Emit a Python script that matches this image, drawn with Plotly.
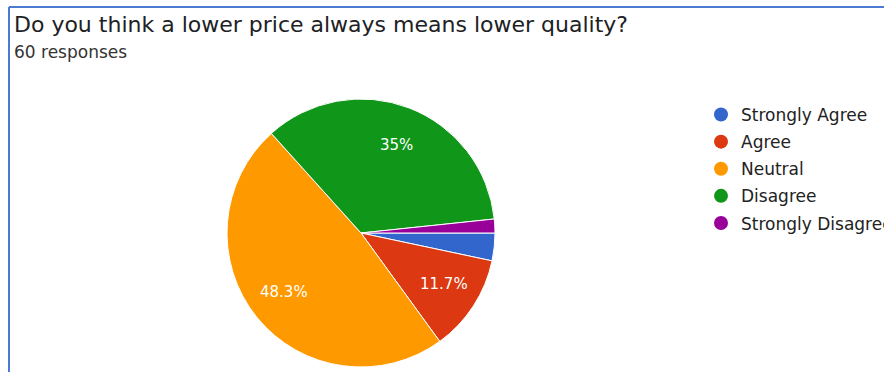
import math
import plotly.graph_objects as go

# Survey responses (60 total)
categories = ["Strongly Agree", "Agree", "Neutral", "Disagree", "Strongly Disagree"]
counts = [2, 7, 29, 21, 1]
colors = ["#3366cc", "#dc3912", "#ff9900", "#109618", "#990099"]

title_text = "Do you think a lower price always means lower quality?"
subtitle_text = "60 responses"

W, H = 884, 372
FONT = "DejaVu Sans"
total = sum(counts)

# pie geometry in pixels
cx, cy, radius = 361, 233, 134
start_angle = 90  # degrees clockwise from 12 o'clock


def pct_label(v):
    p = v / total * 100
    if p < 5:
        return ""
    s = f"{p:.1f}".rstrip("0").rstrip(".")
    return s + "%"


fig = go.Figure()

fig.add_trace(go.Pie(
    labels=categories,
    values=counts,
    sort=False,
    direction="clockwise",
    rotation=start_angle,
    marker=dict(colors=colors, line=dict(color="white", width=1)),
    textinfo="none",
    hoverinfo="label+percent",
    showlegend=False,
    domain=dict(x=[(cx - radius) / W, (cx + radius) / W],
                y=[(H - cy - radius) / H, (H - cy + radius) / H]),
))

# percentage labels placed near 70% of the radius along each slice's bisector
annotations = []
acc = 0
for v in counts:
    mid = start_angle + (acc + v / 2) / total * 360
    acc += v
    txt = pct_label(v)
    if not txt:
        continue
    a = math.radians(mid)
    px = cx + 0.74 * radius * math.sin(a)
    py = cy - 0.7 * radius * math.cos(a)
    annotations.append(dict(
        text=txt, x=px / W, y=(H - py) / H, xref="paper", yref="paper",
        xanchor="center", yanchor="middle", showarrow=False,
        font=dict(family=FONT, size=15, color="white"),
    ))

# circular legend swatches, one group per category
for i, (name, c) in enumerate(zip(categories, colors)):
    fig.add_trace(go.Scatter(
        x=[None], y=[None], mode="markers", name=name,
        marker=dict(color=c, size=14, symbol="circle"),
        legendgroup=f"g{i}", hoverinfo="skip",
    ))

annotations += [
    dict(text=title_text, x=12 / W, y=(H - 24) / H, xref="paper", yref="paper",
         xanchor="left", yanchor="middle", showarrow=False,
         font=dict(family=FONT, size=22, color="#202124")),
    dict(text=subtitle_text, x=12 / W, y=(H - 52) / H, xref="paper", yref="paper",
         xanchor="left", yanchor="middle", showarrow=False,
         font=dict(family=FONT, size=17, color="#333333")),
]

fig.update_layout(
    width=W, height=H,
    margin=dict(l=0, r=0, t=0, b=0, autoexpand=False),
    paper_bgcolor="white", plot_bgcolor="white",
    xaxis=dict(visible=False), yaxis=dict(visible=False),
    legend=dict(
        x=701 / W, y=(H - 97) / H, xanchor="left", yanchor="top",
        font=dict(family=FONT, size=17, color="#222222"),
        tracegroupgap=2, traceorder="grouped",
        bgcolor="rgba(0,0,0,0)",
    ),
    shapes=[
        dict(type="line", xref="paper", yref="paper", x0=9 / W, x1=1, y0=(H - 7) / H, y1=(H - 7) / H,
             line=dict(color="#4a7bd0", width=2)),
        dict(type="line", xref="paper", yref="paper", x0=9 / W, x1=9 / W, y0=0, y1=(H - 7) / H,
             line=dict(color="#4a7bd0", width=2)),
    ],
    annotations=annotations,
)

fig.write_html("out.html")
